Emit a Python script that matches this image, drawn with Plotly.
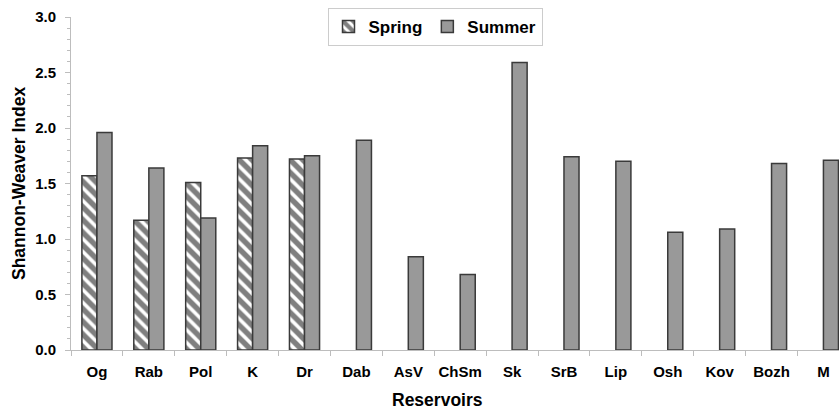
import plotly.graph_objects as go

categories = ["Og", "Rab", "Pol", "K", "Dr", "Dab", "AsV", "ChSm", "Sk", "SrB",
              "Lip", "Osh", "Kov", "Bozh", "M"]
spring = [1.57, 1.17, 1.51, 1.73, 1.72, None, None, None, None, None,
          None, None, None, None, None]
summer = [1.96, 1.64, 1.19, 1.84, 1.75, 1.89, 0.84, 0.68, 2.59, 1.74,
          1.70, 1.06, 1.09, 1.68, 1.71]
y_ticks = [0.0, 0.5, 1.0, 1.5, 2.0, 2.5, 3.0]

FONT = "Liberation Sans, Arial, sans-serif"
W, H = 839, 417
L, R, T, B = 71, 0, 17, 67
PW, PH = W - L - R, H - T - B


def px_x(xp):
    return (xp - L) / PW


def px_y(yp):
    return 1 - (yp - T) / PH


fig = go.Figure()
fig.add_trace(go.Bar(
    x=categories, y=spring, name="Spring",
    marker=dict(color="white",
                line=dict(color="#3a3a3a", width=1.5),
                pattern=dict(shape="\\", fgcolor="black", bgcolor="white",
                             size=9, solidity=0.6)),
))
fig.add_trace(go.Bar(
    x=categories, y=summer, name="Summer",
    marker=dict(color="#999999", line=dict(color="#3a3a3a", width=1.5)),
))

fig.update_layout(
    width=W, height=H,
    margin=dict(l=L, r=R, t=T, b=B),
    paper_bgcolor="white", plot_bgcolor="white",
    barmode="group", bargap=0.42, bargroupgap=0,
    font=dict(family=FONT, size=15, color="black"),
    showlegend=True,
    legend=dict(orientation="h", x=px_x(435), xanchor="center",
                y=px_y(8), yanchor="top",
                bgcolor="white", bordercolor="#cccccc", borderwidth=1,
                font=dict(family=FONT, size=17, color="black", weight="bold"),
                itemwidth=30, traceorder="normal", tracegroupgap=0),
    xaxis=dict(
        range=[-0.5, 14.3], showline=True, linecolor="#bdbdbd", linewidth=1,
        ticks="outside", tickson="boundaries", ticklen=5, tickcolor="#bdbdbd",
        tickangle=0, automargin=False,
        tickfont=dict(family=FONT, size=15, color="black", weight="bold"),
        ticklabelstandoff=8, showgrid=False, zeroline=False,
    ),
    yaxis=dict(
        range=[0, 3], showline=True, linecolor="#bdbdbd", linewidth=1,
        tickmode="array", tickvals=y_ticks, ticktext=[f"{v:.1f}" for v in y_ticks],
        ticks="outside", ticklen=5, tickcolor="#bdbdbd", automargin=False,
        minor=dict(dtick=0.1, ticks="outside", ticklen=3, tickcolor="#bdbdbd", showgrid=False),
        tickfont=dict(family=FONT, size=15, color="black", weight="bold"),
        ticklabelstandoff=6, showgrid=False, zeroline=False,
    ),
)
fig.add_annotation(text="Reservoirs", xref="paper", yref="paper",
                   x=px_x(437.5), y=px_y(400),
                   xanchor="center", yanchor="middle", showarrow=False,
                   font=dict(family=FONT, size=17.5, color="black", weight="bold"))
fig.add_annotation(text="Shannon-Weaver Index", xref="paper", yref="paper",
                   x=px_x(18.5), y=0.5, textangle=-90,
                   xanchor="center", yanchor="middle", showarrow=False,
                   font=dict(family=FONT, size=17.5, color="black", weight="bold"))

fig.write_html(
    "out.html",
    config={"displayModeBar": False},
    post_script="document.body.style.margin='0';document.body.style.overflow='hidden';",
)
